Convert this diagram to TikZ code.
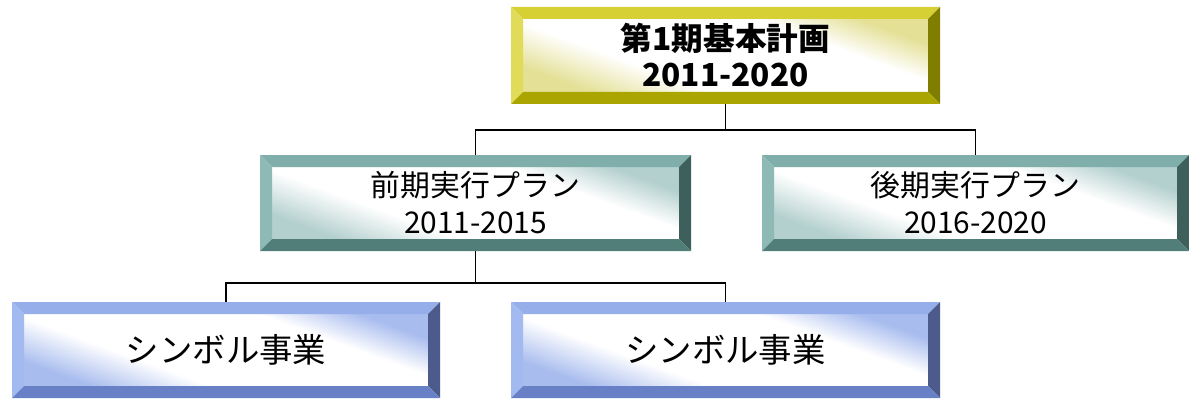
\documentclass[tikz,border=0pt]{standalone}
\usepackage{fontspec}
\setmainfont{Noto Sans CJK JP}
\usetikzlibrary{positioning}

% bevel colours: top, left, right, bottom, tint
\definecolor{yl-top}{RGB}{214,208,52}
\definecolor{yl-left}{RGB}{224,220,90}
\definecolor{yl-right}{RGB}{128,126,0}
\definecolor{yl-bot}{RGB}{170,165,0}
\definecolor{yl-tint}{RGB}{228,224,150}
\definecolor{tl-top}{RGB}{128,174,170}
\definecolor{tl-left}{RGB}{142,186,182}
\definecolor{tl-right}{RGB}{62,96,92}
\definecolor{tl-bot}{RGB}{82,126,122}
\definecolor{tl-tint}{RGB}{180,208,206}
\definecolor{bl-top}{RGB}{150,174,234}
\definecolor{bl-left}{RGB}{162,186,240}
\definecolor{bl-right}{RGB}{76,90,140}
\definecolor{bl-bot}{RGB}{104,128,198}
\definecolor{bl-tint}{RGB}{168,188,238}

% interior: tinted edges, wide white middle
\pgfdeclarehorizontalshading{yl-shade}{100bp}{color(0bp)=(yl-tint); color(25bp)=(yl-tint); color(38bp)=(white); color(64bp)=(white); color(75bp)=(yl-tint); color(100bp)=(yl-tint)}
\pgfdeclarehorizontalshading{tl-shade}{100bp}{color(0bp)=(tl-tint); color(25bp)=(tl-tint); color(38bp)=(white); color(64bp)=(white); color(75bp)=(tl-tint); color(100bp)=(tl-tint)}
\pgfdeclarehorizontalshading{bl-shade}{100bp}{color(0bp)=(bl-tint); color(25bp)=(bl-tint); color(38bp)=(white); color(64bp)=(white); color(75bp)=(bl-tint); color(100bp)=(bl-tint)}

\tikzset{
  bevel/.style={minimum height=1.92cm,inner sep=0pt,align=center,
    path picture={
      \def\bw{0.24cm}
      \coordinate (nw) at (path picture bounding box.north west);
      \coordinate (se) at (path picture bounding box.south east);
      \coordinate (ne) at (path picture bounding box.north east);
      \coordinate (sw) at (path picture bounding box.south west);
      \shade[shading=#1-shade,shading angle=70]
        ([shift={(\bw,-\bw)}]nw) rectangle ([shift={(-\bw,\bw)}]se);
      \fill[#1-top] (nw) -- (ne) -- ([shift={(-\bw,-\bw)}]ne) -- ([shift={(\bw,-\bw)}]nw) -- cycle;
      \fill[#1-left] (nw) -- ([shift={(\bw,-\bw)}]nw) -- ([shift={(\bw,\bw)}]sw) -- (sw) -- cycle;
      \fill[#1-right] (ne) -- (se) -- ([shift={(-\bw,\bw)}]se) -- ([shift={(-\bw,-\bw)}]ne) -- cycle;
      \fill[#1-bot] (sw) -- ([shift={(\bw,\bw)}]sw) -- ([shift={(-\bw,\bw)}]se) -- (se) -- cycle;
    }},
  link/.style={draw,line width=1pt}
}

\begin{document}
\begin{tikzpicture}[x=1cm,y=1cm]
\clip (0,0) rectangle (23.78,7.96);
\fill[white] (0,0) rectangle (23.78,7.96);

\node[bevel=yl,minimum width=8.58cm,minimum height=1.94cm,font=\fontsize{18}{20.5}\selectfont\bfseries]
  (plan) at (14.51,6.85) {第1期基本計画\\2011-2020};
\node[bevel=tl,minimum width=8.62cm,font=\fontsize{17}{21}\selectfont]
  (first) at (9.51,3.90) {前期実行プラン\\2011-2015};
\node[bevel=tl,minimum width=8.54cm,font=\fontsize{17}{21}\selectfont]
  (second) at (19.51,3.90) {後期実行プラン\\2016-2020};
\node[bevel=bl,minimum width=8.56cm,font=\fontsize{19}{22}\selectfont]
  (symA) at (4.52,0.96) {シンボル事業};
\node[bevel=bl,minimum width=8.58cm,font=\fontsize{19}{22}\selectfont]
  (symB) at (14.51,0.96) {シンボル事業};

\coordinate (j1) at ([yshift=-0.52cm]plan.south);
\coordinate (j2) at ([yshift=-0.64cm]first.south);
\draw[link] (plan.south) -- (j1) -| (first.north);
\draw[link] (j1) -| (second.north);
\draw[link] (first.south) -- (j2) -| (symA.north);
\draw[link] (j2) -| (symB.north);
\end{tikzpicture}
\end{document}
